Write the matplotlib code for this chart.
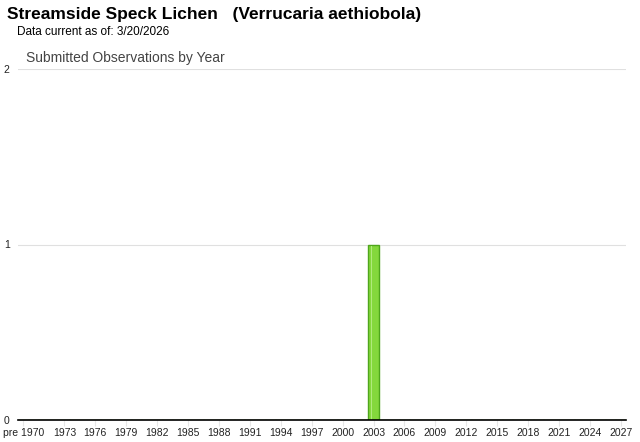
import matplotlib
matplotlib.use("Agg")
import matplotlib.pyplot as plt

# categories: first bucket is everything before 1970
years = ["pre 1970"] + [str(y) for y in range(1970, 2028)]
counts = [0] * len(years)
counts[years.index("2003")] = 1

shown_labels = ["pre 1970"] + [str(y) for y in range(1973, 2028, 3)]
y_ticks = [0, 1, 2]

plt.rcParams['font.family'] = ['Liberation Sans', 'DejaVu Sans']

fig = plt.figure(figsize=(6.4, 4.42), dpi=100)
ax = fig.add_axes([18 / 640, 22 / 442, 608 / 640, 351 / 442])

x = list(range(len(years)))
ax.bar(x, counts, width=1.05, color='#84d83c', edgecolor='#4fa61c', linewidth=1.0, zorder=3)
# light highlight stripe on the bar, like the gradient in the original
hl = [c * 0.99 for c in counts]
ax.bar([i - 0.2 for i in x], hl, width=0.12, color='#b0ea7c', linewidth=0, zorder=4)

ax.set_xlim(-0.5, len(years) - 0.5)
ax.set_ylim(0, 2)
ax.set_yticks(y_ticks)
ax.set_yticklabels([str(v) for v in y_ticks], fontsize=7.5, color='#222222')
ax.tick_params(axis='y', length=0, pad=6)
ax.yaxis.grid(True, color='#e0e0e0', linewidth=0.8, zorder=0)

pos = [years.index(l) for l in shown_labels]
ax.set_xticks(pos)
ax.set_xticklabels(shown_labels, fontsize=7.5, color='#222222')
ax.tick_params(axis='x', length=4, color='#e6e6e6', pad=2)

for s in ['top', 'right', 'left']:
    ax.spines[s].set_visible(False)
ax.spines['bottom'].set_color('#000000')
ax.spines['bottom'].set_linewidth(1.2)
ax.spines['bottom'].set_zorder(5)

fig.text(7 / 640, 1 - 15 / 442, "Streamside Speck Lichen   (Verrucaria aethiobola)",
         fontsize=12.5, fontweight='bold', va='center', ha='left')
fig.text(17 / 640, 1 - 32 / 442, "Data current as of: 3/20/2026",
         fontsize=8.5, va='center', ha='left')
fig.text(26 / 640, 1 - 58 / 442, "Submitted Observations by Year",
         fontsize=10, color='#444444', va='center', ha='left')

fig.savefig("out.png", dpi=100)
